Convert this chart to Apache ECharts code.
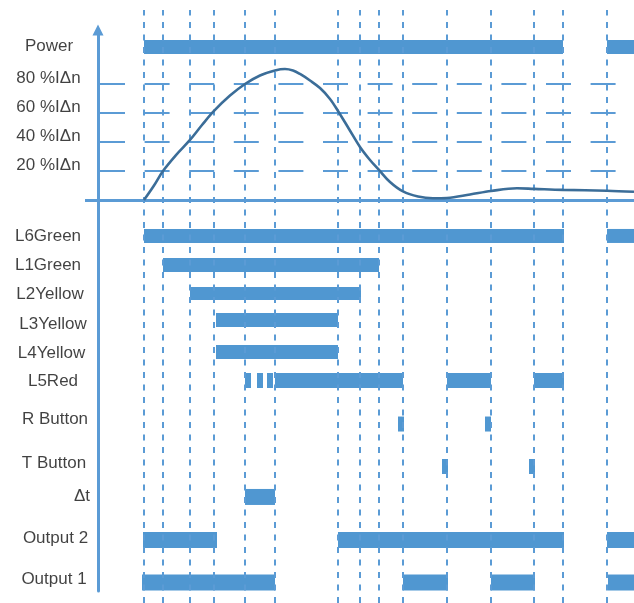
<!DOCTYPE html>
<html><head><meta charset="utf-8">
<script src="https://cdn.jsdelivr.net/npm/echarts@6.0.0/dist/echarts.min.js"></script>
<style>html,body{margin:0;padding:0;background:#fff}#c{width:634px;height:603px}</style>
</head><body><div id="c"></div>
<script>
// ---- DATA (time unit = 1 px to the right of the vertical axis) ----
const eventTimes = [46, 65, 92, 116, 147, 177, 240, 262, 281, 305, 349, 393, 436, 465, 509];
// residual current curve: [time, % of IΔn]
const currentCurve = [[46,0],[56,10],[65,20],[78,31],[92,41.4],[104,51.7],[116,61.4],[132,72],[147,80],[162,85.9],[177,89.3],[187,90.3],[195,89.3],[202,86.9],[212,82.4],[222,77.2],[232,69.7],[240,61.4],[251,49],[262,36.6],[272,27.6],[281,20.7],[292,12.4],[305,5.9],[320,2.4],[335,1.2],[349,1.4],[372,3.8],[393,6.2],[419,8.1],[436,7.7],[465,7.0],[509,6.4],[536,5.7]];
const thresholdLevels = [80, 60, 40, 20];
const thresholdLabels = ['80 %IΔn', '60 %IΔn', '40 %IΔn', '20 %IΔn'];
const rowNames = ['Power','L6Green','L1Green','L2Yellow','L3Yellow','L4Yellow','L5Red','R Button','T Button','Δt','Output 2','Output 1'];
const rowLevels = [105.5, -24.8, -44.8, -64.5, -82.8, -104.8, -124.5, -154.5, -183.8, -204.8, -234.5, -263.8];
const powerSeg    = [[46,465],[509,536]];
const l6GreenSeg  = [[46,466],[509,536]];
const l1GreenSeg  = [[65,281]];
const l2YellowSeg = [[92,263]];
const l3YellowSeg = [[118,240]];
const l4YellowSeg = [[118,240]];
const l5RedSeg    = [[147,153],[159,165],[169,175],[177,305],[349,393],[436,466]];
const rButtonSeg  = [[300,306],[387,393]];
const tButtonSeg  = [[344,350],[431,437]];
const deltaTSeg   = [[147,177]];
const output2Seg  = [[45,119],[240,466],[509,536]];
const output1Seg  = [[44,177],[305,350],[393,437],[510,536]];
const rowSegments = [powerSeg,l6GreenSeg,l1GreenSeg,l2YellowSeg,l3YellowSeg,l4YellowSeg,l5RedSeg,rButtonSeg,tButtonSeg,deltaTSeg,output2Seg,output1Seg];

// ---- STYLE / LAYOUT ----
const BAR = '#5097d1', AXIS = '#5b9bd5', GUIDE = '#5b9bd5', CURVE = '#3b6d98', TXT = '#111111';
const FONT = 'Liberation Sans, Arial, sans-serif', FS = 17;
const X_MIN = -98, X_MAX = 536;
const Y_MAX = 170 / 1.45, Y_MIN = -391 / 1.45;
const barThickness = [14,14,14,13,14,14,15,15,15,16,16,16];
const rowLabelCenterPx = [49,48,48,50,53,51.5,53,55,54,90,55.5,54];
const rowLabelDy = [-1,0,0,1,4,1,1,-4.5,-3.5,-1,-2,-3.5];

const barData = [];
rowSegments.forEach((segs, i) => segs.forEach(s => barData.push([s[0], s[1], rowLevels[i], i])));

const labelData = rowNames.map((n, i) => ({
  value: [rowLabelCenterPx[i] + X_MIN, rowLevels[i]],
  name: n,
  label: { align: n === 'Δt' ? 'right' : 'center', offset: [0, rowLabelDy[i]] }
})).concat(thresholdLabels.map((n, i) => ({
  value: [48.5 + X_MIN, thresholdLevels[i]],
  name: n,
  label: { align: 'center', offset: [0, -6] }
})));

const chart = echarts.init(document.getElementById('c'), null, { renderer: 'canvas' });
chart.setOption({
  animation: false,
  grid: [
    { left: 0, right: 0, top: 10, bottom: 0 },
    { left: 0, right: 0, top: 30, bottom: 12 }
  ],
  xAxis: [
    { gridIndex: 0, type: 'value', min: X_MIN, max: X_MAX, show: false },
    { gridIndex: 1, type: 'value', min: X_MIN, max: X_MAX, axisLine: { show: false }, axisTick: { show: false }, axisLabel: { show: false }, splitLine: { show: false } }
  ],
  yAxis: [
    { gridIndex: 0, type: 'value', min: 0, max: 1, show: false },
    { gridIndex: 1, type: 'value', min: Y_MIN, max: Y_MAX,
      axisLine: { show: true, onZero: true, symbol: ['none', 'triangle'], symbolSize: [11, 11], lineStyle: { color: AXIS, width: 3 } },
      axisTick: { show: false }, axisLabel: { show: false }, splitLine: { show: false }, z: 10 }
  ],
  series: [
    { type: 'scatter', xAxisIndex: 0, yAxisIndex: 0, data: [], symbolSize: 0, silent: true, z: 1,
      markLine: { silent: true, symbol: ['none', 'none'], label: { show: false },
        lineStyle: { color: GUIDE, width: 2, type: [6, 6.5], opacity: 1 },
        data: eventTimes.map(t => ({ xAxis: t })) } },
    { type: 'scatter', xAxisIndex: 1, yAxisIndex: 1, data: [], symbolSize: 0, silent: true, z: 2,
      markLine: { silent: true, symbol: ['none', 'none'], label: { show: false },
        lineStyle: { color: GUIDE, width: 2, type: [25, 19.6] },
        data: thresholdLevels.map(v => [{ coord: [2, v] }, { coord: [518, v] }]) } },
    { type: 'custom', xAxisIndex: 1, yAxisIndex: 1, data: barData, silent: true, z: 3,
      renderItem: function (params, api) {
        const lvl = api.value(2), idx = api.value(3);
        const s = api.coord([api.value(0), lvl]);
        const e = api.coord([api.value(1), lvl]);
        const h = barThickness[idx];
        return { type: 'rect', shape: { x: s[0], y: s[1] - h / 2, width: e[0] - s[0], height: h }, style: { fill: BAR } };
      } },
    { type: 'line', xAxisIndex: 1, yAxisIndex: 1, data: currentCurve, smooth: 0.35, showSymbol: false, silent: true, z: 5,
      lineStyle: { color: CURVE, width: 2.6 } },
    { type: 'scatter', xAxisIndex: 1, yAxisIndex: 1, data: [], symbolSize: 0, silent: true, z: 9,
      markLine: { silent: true, symbol: ['none', 'none'], label: { show: false },
        lineStyle: { color: AXIS, width: 3, type: 'solid' },
        data: [[{ coord: [-13, 0] }, { coord: [X_MAX, 0] }]] } },
    { type: 'scatter', xAxisIndex: 1, yAxisIndex: 1, data: labelData, symbolSize: 1, silent: true, clip: false, z: 8,
      itemStyle: { color: 'rgba(0,0,0,0)' },
      label: { show: true, position: 'inside', formatter: p => p.name, color: TXT, textBorderWidth: 0, fontFamily: FONT, fontSize: FS, verticalAlign: 'middle' } }
  ]
});
</script></body></html>
